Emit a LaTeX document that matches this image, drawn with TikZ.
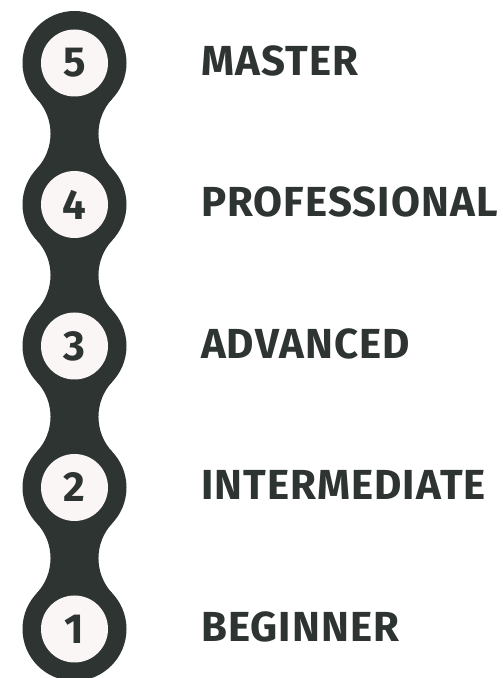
\documentclass[tikz,border=0pt]{standalone}
\usepackage{fontspec}
\setmainfont{Fira Sans}
\newfontfamily\labelfont[LetterSpace=2.5]{Fira Sans}
\usetikzlibrary{positioning,calc}
\definecolor{chaindark}{HTML}{2E3432}
\definecolor{chainlight}{HTML}{FBF6F6}
\newcommand \drawneck[1]
{
\coordinate (up) at (74.5,#1+70.75);
\coordinate (dn) at (74.5,#1-70.75);
\fill[chaindark] (up) -- ($(up)+(37.9,-35.6)$) arc[start angle=136.8,end angle=223.2,radius=51.4pt]
  -- (dn) -- ($(dn)+(-37.9,35.6)$) arc[start angle=-43.2,end angle=43.2,radius=51.4pt] -- cycle;
}
\begin{document}
\begin{tikzpicture}[x=1pt,y=1pt,
  levelnum/.style={circle,fill=chainlight,minimum size=67pt,inner sep=0pt,
    text=chaindark,font=\fontsize{42}{42}\selectfont\bfseries},
  levelname/.style={anchor=base west,inner sep=0pt,text=chaindark,
    font=\labelfont\fontsize{42}{42}\selectfont\bfseries}]
\fill[white] (0,0) rectangle (503,678);
\useasboundingbox (0,0) rectangle (503,678);
\foreach \n in {1,...,4}
{
\pgfmathsetmacro\ym{49+(\n-1)*141.5+70.75}
\drawneck{\ym}
}
\foreach \n/\name in {1/BEGINNER,2/INTERMEDIATE,3/ADVANCED,4/PROFESSIONAL,5/MASTER}
{
\pgfmathsetmacro\yc{49+(\n-1)*141.5}
\fill[chaindark] (74.5,\yc) circle (52pt);
\node[levelnum] (num\n) at (74.5,\yc) {\n};
\node[levelname] (name\n) at (201,\yc-12.5) {\name};
}
\end{tikzpicture}
\end{document}
